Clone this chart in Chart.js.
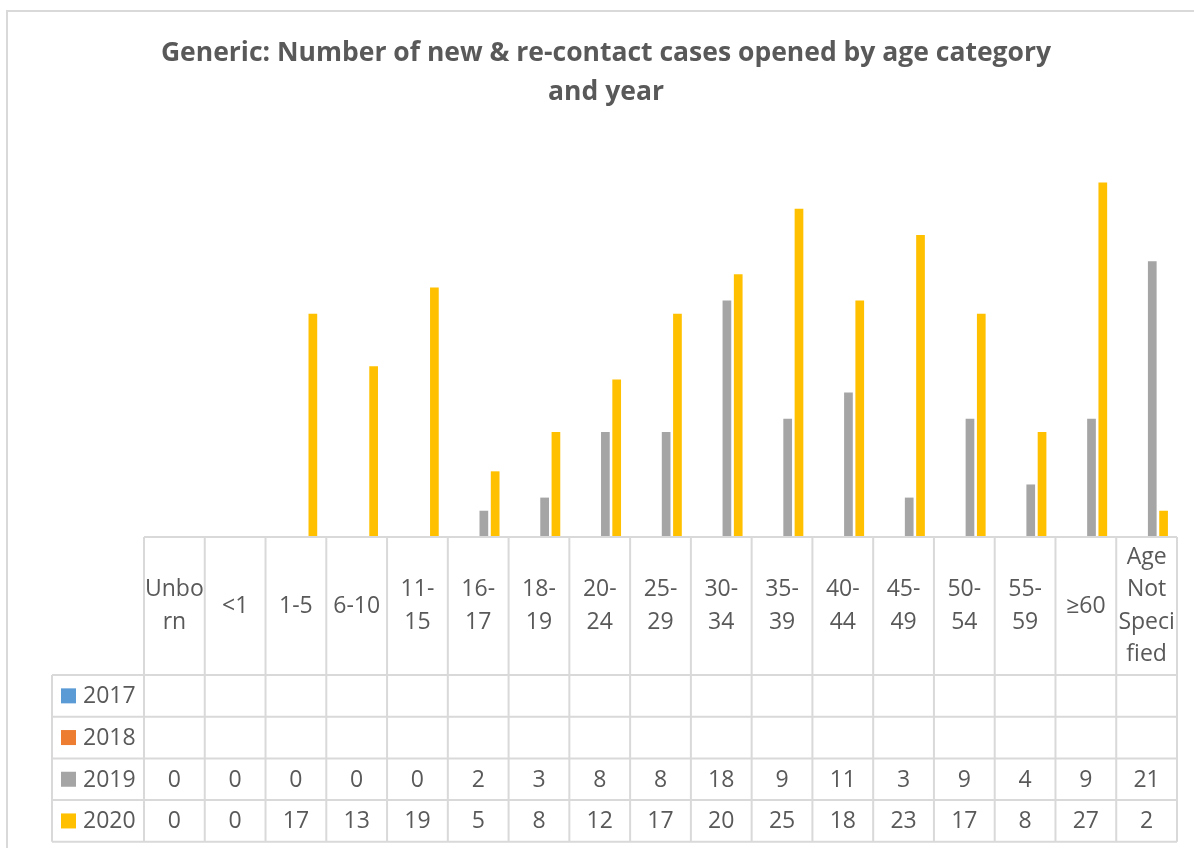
<!DOCTYPE html>
<html>
<head>
<meta charset="utf-8">
<script src="https://cdn.jsdelivr.net/npm/chart.js@4.4.1/dist/chart.umd.min.js"></script>
<style>
  html, body { margin: 0; padding: 0; background: #fff; overflow: hidden; }
  #wrap { position: relative; width: 1194px; height: 848px; }
  #frame { position: absolute; left: 6px; top: 10px; width: 1300px; height: 1000px;
           border: 2px solid #d9d9d9; box-sizing: border-box; }
  #chart { position: absolute; left: 0; top: 0; }
</style>
</head>
<body>
<div id="wrap">
  <div id="frame"></div>
  <canvas id="chart" width="1194" height="848"></canvas>
</div>
<script>
// Chart data
const TITLE_LINES = ["Generic: Number of new & re-contact cases opened by age category", "and year"];
const CATEGORIES = [
  ["Unbo", "rn"], ["<1"], ["1-5"], ["6-10"], ["11-", "15"], ["16-", "17"], ["18-", "19"],
  ["20-", "24"], ["25-", "29"], ["30-", "34"], ["35-", "39"], ["40-", "44"], ["45-", "49"],
  ["50-", "54"], ["55-", "59"], ["≥60"], ["Age", "Not", "Speci", "fied"]
];
const SERIES_NAMES = ["2017", "2018", "2019", "2020"];
const V2017 = [null, null, null, null, null, null, null, null, null, null, null, null, null, null, null, null, null];
const V2018 = [null, null, null, null, null, null, null, null, null, null, null, null, null, null, null, null, null];
const V2019 = [0, 0, 0, 0, 0, 2, 3, 8, 8, 18, 9, 11, 3, 9, 4, 9, 21];
const V2020 = [0, 0, 17, 13, 19, 5, 8, 12, 17, 20, 25, 18, 23, 17, 8, 27, 2];
const COLORS = ["#5b9bd5", "#ed7d31", "#a5a5a5", "#ffc000"];

const FONT = '"Open Sans", "DejaVu Sans", sans-serif';
const TEXT = "#595959";
const GRID = "#d9d9d9";

// draws the chart title and the data table under the plot
const tablePlugin = {
  id: "dataTable",
  afterDraw(chart) {
    const ctx = chart.ctx;
    const x = chart.scales.x;
    const area = chart.chartArea;
    const n = CATEGORIES.length;
    const colW = (area.right - area.left) / n;
    const legendLeft = 52;
    const headerTop = area.bottom;
    const headerBottom = 675;
    const rowH = 41.7;
    const tableBottom = headerBottom + rowH * 4;

    ctx.save();
    // title
    ctx.fillStyle = TEXT;
    ctx.textAlign = "center";
    ctx.textBaseline = "middle";
    ctx.font = "bold 26.5px " + FONT;
    TITLE_LINES.forEach((t, i) => ctx.fillText(t, 606, 53 + i * 39));

    // grid
    ctx.strokeStyle = GRID;
    ctx.lineWidth = 2;
    ctx.beginPath();
    ctx.moveTo(area.left, headerTop); ctx.lineTo(area.right, headerTop);
    for (let r = 0; r <= 4; r++) {
      const y = headerBottom + r * rowH;
      ctx.moveTo(legendLeft, y); ctx.lineTo(area.right, y);
    }
    for (let i = 0; i <= n; i++) {
      const cx = area.left + i * colW;
      ctx.moveTo(cx, headerTop); ctx.lineTo(cx, tableBottom);
    }
    ctx.moveTo(legendLeft, headerBottom); ctx.lineTo(legendLeft, tableBottom);
    ctx.stroke();

    // header labels
    ctx.font = "23px " + FONT;
    ctx.fillStyle = TEXT;
    const lh = 32.5;
    const hMid = (headerTop + headerBottom) / 2;
    CATEGORIES.forEach((lines, i) => {
      const cx = x.getPixelForValue(i);
      const y0 = hMid - (lines.length - 1) * lh / 2;
      lines.forEach((l, k) => ctx.fillText(l, cx, y0 + k * lh));
    });

    // rows
    chart.data.datasets.forEach((ds, r) => {
      const yMid = headerBottom + r * rowH + rowH / 2;
      ctx.fillStyle = ds.backgroundColor;
      ctx.fillRect(61, yMid - 7.5, 15, 15);
      ctx.fillStyle = TEXT;
      ctx.textAlign = "left";
      ctx.fillText(ds.label, 83, yMid + 1);
      ctx.textAlign = "center";
      ds.data.forEach((v, i) => {
        if (v === null) return;
        ctx.fillText(String(v), x.getPixelForValue(i), yMid + 1);
      });
    });
    ctx.restore();
  }
};

new Chart(document.getElementById("chart"), {
  type: "bar",
  data: {
    labels: CATEGORIES,
    datasets: [V2017, V2018, V2019, V2020].map((d, i) => ({
      label: SERIES_NAMES[i],
      data: d,
      backgroundColor: COLORS[i],
      categoryPercentage: 0.744,
      barPercentage: 0.77,
    })),
  },
  options: {
    responsive: false,
    animation: false,
    layout: { padding: { left: 144, right: 17, top: 143, bottom: 311 } },
    plugins: { legend: { display: false }, tooltip: { enabled: false }, title: { display: false } },
    scales: {
      x: { display: false },
      y: { display: false, min: 0, max: 30 },
    },
  },
  plugins: [tablePlugin],
});
</script>
</body>
</html>
